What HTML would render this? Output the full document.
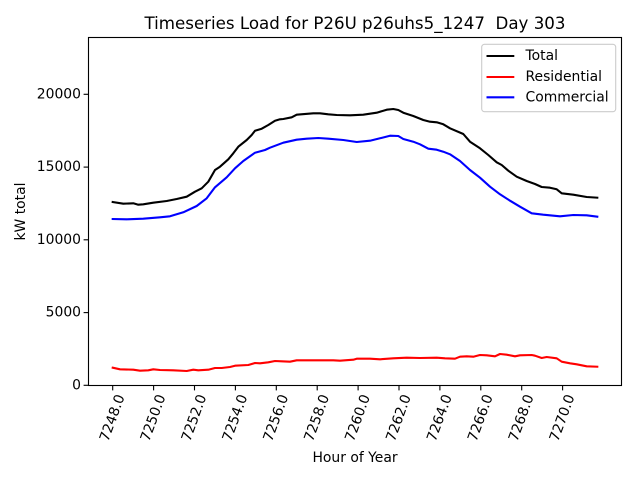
<!DOCTYPE html>
<html><head><meta charset="utf-8"><style>
html,body{margin:0;padding:0;background:#fff;}
svg{display:block;}
text{font-family:"DejaVu Sans","Liberation Sans",sans-serif;fill:#000;}
</style></head><body>
<svg width="640" height="480" viewBox="0 0 640 480" xmlns="http://www.w3.org/2000/svg">
<rect x="0" y="0" width="640" height="480" fill="#fff"/>
<text x="355" y="29" font-size="16.67" text-anchor="middle" xml:space="preserve">Timeseries Load for P26U p26uhs5_1247  Day 303</text>

<!-- series -->
<polyline fill="none" stroke="#000" stroke-width="2.08" stroke-linejoin="round" stroke-linecap="square" points="112.7,202 123.3,203.7 133.3,203.3 138.3,204.7 143.3,204.3 153.3,202.7 166.7,201 176.7,199 186.7,196.7 195,191.7 201.7,188.3 208.3,181.7 215,170 220,166.7 228.3,159.3 233.3,153.3 238.3,146.7 246.7,140 251.7,135 255,130.7 261.7,128.7 268.3,125 275,120.7 280,119.3 283.3,119 291.7,117.3 296.7,114.7 313.3,113.3 320,113.3 328.3,114.3 336.7,115 350,115.3 363.3,114.7 376.7,112.7 386.7,109.7 393.3,109 398.3,110 403.3,112.7 413.3,116 423.3,120 430,121.7 436.7,122.3 443.3,124.3 450,128.3 463.3,134 470,141.7 480,148.3 488.3,155 496.7,162.3 501.7,165 508.3,170.7 516.7,176.7 526.7,181 535,184 541.7,187 550,187.7 556.7,189.3 561.7,193.3 573.3,194.7 586.7,197 597.3,197.7"/>
<polyline fill="none" stroke="#ff0000" stroke-width="2.08" stroke-linejoin="round" stroke-linecap="square" points="112.7,367.7 120,369.3 133.3,369.7 140,370.7 148.3,370.3 153.3,369.3 160,370 173.3,370.3 186.7,371 193.3,369.7 198.3,370.3 208.3,369.7 215,368 221.7,368 230,367 235,365.7 248.3,365 255,363 260,363.3 268.3,362.3 275,361 281.7,361.3 290,361.7 296.7,360.3 313.3,360.3 320,360.3 333.3,360.3 340,360.7 353.3,359.7 356.7,358.7 370,358.7 380,359.3 393.3,358.3 406.7,357.7 420,358 436.7,357.7 445,358.3 455,358.7 460,356.7 466.7,356.3 473.3,356.7 480,355 486.7,355.3 495,356.3 500,354 506.7,354.7 515,356.3 520,355.3 531.7,355 535,355.7 541.7,358 546.7,357 556.7,358.3 561.7,361.7 570,363.3 576.7,364.3 586.7,366.3 597.3,366.7"/>
<polyline fill="none" stroke="#0000ff" stroke-width="2.08" stroke-linejoin="round" stroke-linecap="square" points="112.7,219 126.7,219.3 143.3,218.7 160,217.3 170,216.3 183.3,212.3 196.7,206 206.7,198.3 215,187.3 226.7,177.3 235,168.3 243.3,161 255,152.7 265,150 270,147.7 283.3,142.7 296.7,139.7 306.7,138.7 318.3,138 328.3,138.7 343.3,140 356.7,142 370,140.7 380,138.3 390,135.7 398.3,136 403.3,139 413.3,141.7 420,144.3 428.3,148.7 436.7,149.7 443.3,151.7 450,154.3 460,161 470,170 480,177.7 490,186.7 500,194.3 510,200.7 520,206.7 531.7,213.3 543.3,214.7 560,216.3 573.3,215 586.7,215.3 597.3,216.7"/>

<!-- axes frame -->
<rect x="88.5" y="37.5" width="533" height="348" fill="none" stroke="#000" stroke-width="1.11"/>

<!-- y ticks -->
<g stroke="#000" stroke-width="1.11">
<line x1="83.6" y1="385.3" x2="88.5" y2="385.3"/>
<line x1="83.6" y1="312.6" x2="88.5" y2="312.6"/>
<line x1="83.6" y1="239.8" x2="88.5" y2="239.8"/>
<line x1="83.6" y1="167.1" x2="88.5" y2="167.1"/>
<line x1="83.6" y1="94.3" x2="88.5" y2="94.3"/>
</g>
<g font-size="13.9" text-anchor="end" dominant-baseline="central">
<text x="81" y="385.3">0</text>
<text x="81" y="312.6">5000</text>
<text x="81" y="239.8">10000</text>
<text x="81" y="167.1">15000</text>
<text x="81" y="94.3">20000</text>
</g>

<!-- x ticks -->
<g stroke="#000" stroke-width="1.11">
<line x1="112.7" y1="385.5" x2="112.7" y2="390.4"/>
<line x1="153.6" y1="385.5" x2="153.6" y2="390.4"/>
<line x1="194.5" y1="385.5" x2="194.5" y2="390.4"/>
<line x1="235.4" y1="385.5" x2="235.4" y2="390.4"/>
<line x1="276.3" y1="385.5" x2="276.3" y2="390.4"/>
<line x1="317.2" y1="385.5" x2="317.2" y2="390.4"/>
<line x1="358.1" y1="385.5" x2="358.1" y2="390.4"/>
<line x1="399.0" y1="385.5" x2="399.0" y2="390.4"/>
<line x1="439.9" y1="385.5" x2="439.9" y2="390.4"/>
<line x1="480.8" y1="385.5" x2="480.8" y2="390.4"/>
<line x1="521.7" y1="385.5" x2="521.7" y2="390.4"/>
<line x1="562.6" y1="385.5" x2="562.6" y2="390.4"/>
</g>
<g font-size="13.9" text-anchor="middle" dominant-baseline="central">
<text transform="translate(112.7,418) rotate(-70)">7248.0</text>
<text transform="translate(153.6,418) rotate(-70)">7250.0</text>
<text transform="translate(194.5,418) rotate(-70)">7252.0</text>
<text transform="translate(235.4,418) rotate(-70)">7254.0</text>
<text transform="translate(276.3,418) rotate(-70)">7256.0</text>
<text transform="translate(317.2,418) rotate(-70)">7258.0</text>
<text transform="translate(358.1,418) rotate(-70)">7260.0</text>
<text transform="translate(399.0,418) rotate(-70)">7262.0</text>
<text transform="translate(439.9,418) rotate(-70)">7264.0</text>
<text transform="translate(480.8,418) rotate(-70)">7266.0</text>
<text transform="translate(521.7,418) rotate(-70)">7268.0</text>
<text transform="translate(562.6,418) rotate(-70)">7270.0</text>
</g>

<!-- axis labels -->
<text x="355" y="462" font-size="13.9" text-anchor="middle">Hour of Year</text>
<text transform="translate(25,211.5) rotate(-90)" font-size="13.9" text-anchor="middle">kW total</text>

<!-- legend -->
<rect x="481.7" y="44.3" width="134" height="67.4" rx="2.8" ry="2.8" fill="#fff" fill-opacity="0.8" stroke="#cccccc" stroke-width="1.11"/>
<line x1="486.5" y1="56" x2="514.3" y2="56" stroke="#000" stroke-width="2.08"/>
<line x1="486.5" y1="77" x2="514.3" y2="77" stroke="#ff0000" stroke-width="2.08"/>
<line x1="486.5" y1="97.3" x2="514.3" y2="97.3" stroke="#0000ff" stroke-width="2.08"/>
<g font-size="13.9" dominant-baseline="central">
<text x="525.5" y="56">Total</text>
<text x="525.5" y="77">Residential</text>
<text x="525.5" y="97.3">Commercial</text>
</g>
</svg>
</body></html>
